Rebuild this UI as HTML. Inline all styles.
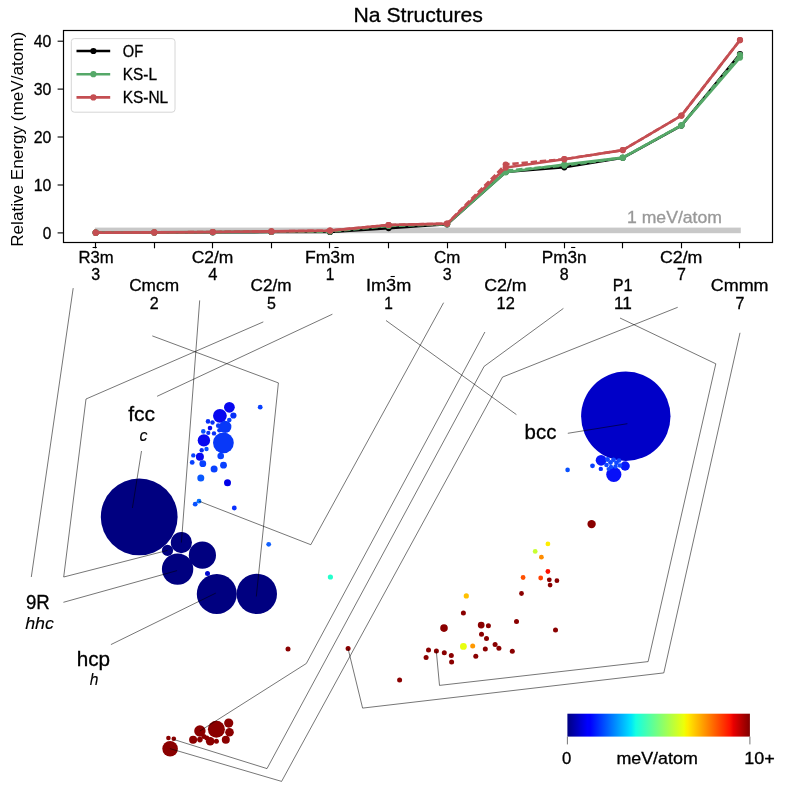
<!DOCTYPE html>
<html><head><meta charset="utf-8"><title>Na Structures</title>
<style>html,body{margin:0;padding:0;background:#fff;} svg{display:block;} text{font-family:"Liberation Sans", sans-serif;} svg{will-change:transform;}</style>
</head><body>
<svg width="791" height="791" viewBox="0 0 791 791">
<rect x="0" y="0" width="791" height="791" fill="#fff"/>
<rect x="94.9" y="227.6" width="645.87" height="5.6" fill="#c8c8c8"/>
<polyline points="95.7,232.7 154.3,232.5 212.8,232.3 271.4,232.0 330.0,232.0 388.6,228.1 447.1,224.3 505.7,172.0 564.3,167.3 622.8,157.8 681.4,125.6 740.0,54.0" fill="none" stroke="#000000" stroke-width="2.6" stroke-linejoin="round" stroke-linecap="butt" />
<circle cx="95.7" cy="232.7" r="3.1" fill="#000000"/>
<circle cx="154.3" cy="232.5" r="3.1" fill="#000000"/>
<circle cx="212.8" cy="232.3" r="3.1" fill="#000000"/>
<circle cx="271.4" cy="232.0" r="3.1" fill="#000000"/>
<circle cx="330.0" cy="232.0" r="3.1" fill="#000000"/>
<circle cx="388.6" cy="228.1" r="3.1" fill="#000000"/>
<circle cx="447.1" cy="224.3" r="3.1" fill="#000000"/>
<circle cx="505.7" cy="172.0" r="3.1" fill="#000000"/>
<circle cx="564.3" cy="167.3" r="3.1" fill="#000000"/>
<circle cx="622.8" cy="157.8" r="3.1" fill="#000000"/>
<circle cx="681.4" cy="125.6" r="3.1" fill="#000000"/>
<circle cx="740.0" cy="54.0" r="3.1" fill="#000000"/>
<polyline points="95.7,232.7 154.3,232.5 212.8,232.2 271.4,231.8 330.0,231.6 388.6,226.0 447.1,224.2 505.7,170.6 564.3,165.6 622.8,157.7 681.4,125.3 740.0,54.9" fill="none" stroke="#55a868" stroke-width="2.6" stroke-linejoin="round" stroke-linecap="butt" stroke-dasharray="6.4,2.8"/>
<circle cx="95.7" cy="232.7" r="3.1" fill="#55a868"/>
<circle cx="154.3" cy="232.5" r="3.1" fill="#55a868"/>
<circle cx="212.8" cy="232.2" r="3.1" fill="#55a868"/>
<circle cx="271.4" cy="231.8" r="3.1" fill="#55a868"/>
<circle cx="330.0" cy="231.6" r="3.1" fill="#55a868"/>
<circle cx="388.6" cy="226.0" r="3.1" fill="#55a868"/>
<circle cx="447.1" cy="224.2" r="3.1" fill="#55a868"/>
<circle cx="505.7" cy="170.6" r="3.1" fill="#55a868"/>
<circle cx="564.3" cy="165.6" r="3.1" fill="#55a868"/>
<circle cx="622.8" cy="157.7" r="3.1" fill="#55a868"/>
<circle cx="681.4" cy="125.3" r="3.1" fill="#55a868"/>
<circle cx="740.0" cy="54.9" r="3.1" fill="#55a868"/>
<polyline points="95.7,232.7 154.3,232.4 212.8,232.0 271.4,231.5 330.0,231.0 388.6,225.2 447.1,224.0 505.7,172.3 564.3,164.5 622.8,157.6 681.4,125.4 740.0,57.6" fill="none" stroke="#55a868" stroke-width="2.6" stroke-linejoin="round" stroke-linecap="butt" />
<circle cx="95.7" cy="232.7" r="3.1" fill="#55a868"/>
<circle cx="154.3" cy="232.4" r="3.1" fill="#55a868"/>
<circle cx="212.8" cy="232.0" r="3.1" fill="#55a868"/>
<circle cx="271.4" cy="231.5" r="3.1" fill="#55a868"/>
<circle cx="330.0" cy="231.0" r="3.1" fill="#55a868"/>
<circle cx="388.6" cy="225.2" r="3.1" fill="#55a868"/>
<circle cx="447.1" cy="224.0" r="3.1" fill="#55a868"/>
<circle cx="505.7" cy="172.3" r="3.1" fill="#55a868"/>
<circle cx="564.3" cy="164.5" r="3.1" fill="#55a868"/>
<circle cx="622.8" cy="157.6" r="3.1" fill="#55a868"/>
<circle cx="681.4" cy="125.4" r="3.1" fill="#55a868"/>
<circle cx="740.0" cy="57.6" r="3.1" fill="#55a868"/>
<polyline points="95.7,232.7 154.3,232.4 212.8,232.0 271.4,231.4 330.0,230.6 388.6,225.0 447.1,223.6 505.7,164.5 564.3,159.2 622.8,150.1 681.4,115.6 740.0,40.1" fill="none" stroke="#c44e52" stroke-width="2.6" stroke-linejoin="round" stroke-linecap="butt" stroke-dasharray="6.4,2.8"/>
<circle cx="95.7" cy="232.7" r="3.1" fill="#c44e52"/>
<circle cx="154.3" cy="232.4" r="3.1" fill="#c44e52"/>
<circle cx="212.8" cy="232.0" r="3.1" fill="#c44e52"/>
<circle cx="271.4" cy="231.4" r="3.1" fill="#c44e52"/>
<circle cx="330.0" cy="230.6" r="3.1" fill="#c44e52"/>
<circle cx="388.6" cy="225.0" r="3.1" fill="#c44e52"/>
<circle cx="447.1" cy="223.6" r="3.1" fill="#c44e52"/>
<circle cx="505.7" cy="164.5" r="3.1" fill="#c44e52"/>
<circle cx="564.3" cy="159.2" r="3.1" fill="#c44e52"/>
<circle cx="622.8" cy="150.1" r="3.1" fill="#c44e52"/>
<circle cx="681.4" cy="115.6" r="3.1" fill="#c44e52"/>
<circle cx="740.0" cy="40.1" r="3.1" fill="#c44e52"/>
<polyline points="95.7,232.7 154.3,232.4 212.8,232.0 271.4,231.4 330.0,230.6 388.6,225.0 447.1,223.6 505.7,167.6 564.3,159.2 622.8,150.1 681.4,115.6 740.0,40.1" fill="none" stroke="#c44e52" stroke-width="2.6" stroke-linejoin="round" stroke-linecap="butt" />
<circle cx="95.7" cy="232.7" r="3.1" fill="#c44e52"/>
<circle cx="154.3" cy="232.4" r="3.1" fill="#c44e52"/>
<circle cx="212.8" cy="232.0" r="3.1" fill="#c44e52"/>
<circle cx="271.4" cy="231.4" r="3.1" fill="#c44e52"/>
<circle cx="330.0" cy="230.6" r="3.1" fill="#c44e52"/>
<circle cx="388.6" cy="225.0" r="3.1" fill="#c44e52"/>
<circle cx="447.1" cy="223.6" r="3.1" fill="#c44e52"/>
<circle cx="505.7" cy="167.6" r="3.1" fill="#c44e52"/>
<circle cx="564.3" cy="159.2" r="3.1" fill="#c44e52"/>
<circle cx="622.8" cy="150.1" r="3.1" fill="#c44e52"/>
<circle cx="681.4" cy="115.6" r="3.1" fill="#c44e52"/>
<circle cx="740.0" cy="40.1" r="3.1" fill="#c44e52"/>
<text x="627.0" y="223.2" font-size="15.9" text-anchor="start" fill="#999999" stroke="#999999" stroke-width="0.3" textLength="95" lengthAdjust="spacingAndGlyphs" >1 meV/atom</text>
<rect x="63.5" y="30.5" width="709.0" height="212.0" fill="none" stroke="#000" stroke-width="1.2"/>
<line x1="57.6" y1="232.9" x2="63.5" y2="232.9" stroke="#000" stroke-width="1.1"/>
<text x="51.3" y="238.9" font-size="15.9" text-anchor="end" fill="#000" stroke="#000" stroke-width="0.3" textLength="8.6" lengthAdjust="spacingAndGlyphs" >0</text>
<line x1="57.6" y1="185.0" x2="63.5" y2="185.0" stroke="#000" stroke-width="1.1"/>
<text x="51.3" y="190.97" font-size="15.9" text-anchor="end" fill="#000" stroke="#000" stroke-width="0.3" textLength="17.6" lengthAdjust="spacingAndGlyphs" >10</text>
<line x1="57.6" y1="137.0" x2="63.5" y2="137.0" stroke="#000" stroke-width="1.1"/>
<text x="51.3" y="143.04000000000002" font-size="15.9" text-anchor="end" fill="#000" stroke="#000" stroke-width="0.3" textLength="17.6" lengthAdjust="spacingAndGlyphs" >20</text>
<line x1="57.6" y1="89.1" x2="63.5" y2="89.1" stroke="#000" stroke-width="1.1"/>
<text x="51.3" y="95.11000000000001" font-size="15.9" text-anchor="end" fill="#000" stroke="#000" stroke-width="0.3" textLength="17.6" lengthAdjust="spacingAndGlyphs" >30</text>
<line x1="57.6" y1="41.2" x2="63.5" y2="41.2" stroke="#000" stroke-width="1.1"/>
<text x="51.3" y="47.18000000000001" font-size="15.9" text-anchor="end" fill="#000" stroke="#000" stroke-width="0.3" textLength="17.6" lengthAdjust="spacingAndGlyphs" >40</text>
<line x1="95.5" y1="242.4" x2="95.5" y2="248.3" stroke="#000" stroke-width="1.15"/>
<line x1="154.5" y1="242.4" x2="154.5" y2="248.3" stroke="#000" stroke-width="1.15"/>
<line x1="212.5" y1="242.4" x2="212.5" y2="248.3" stroke="#000" stroke-width="1.15"/>
<line x1="271.5" y1="242.4" x2="271.5" y2="248.3" stroke="#000" stroke-width="1.15"/>
<line x1="329.5" y1="242.4" x2="329.5" y2="248.3" stroke="#000" stroke-width="1.15"/>
<line x1="388.5" y1="242.4" x2="388.5" y2="248.3" stroke="#000" stroke-width="1.15"/>
<line x1="447.5" y1="242.4" x2="447.5" y2="248.3" stroke="#000" stroke-width="1.15"/>
<line x1="505.5" y1="242.4" x2="505.5" y2="248.3" stroke="#000" stroke-width="1.15"/>
<line x1="564.5" y1="242.4" x2="564.5" y2="248.3" stroke="#000" stroke-width="1.15"/>
<line x1="622.5" y1="242.4" x2="622.5" y2="248.3" stroke="#000" stroke-width="1.15"/>
<line x1="681.5" y1="242.4" x2="681.5" y2="248.3" stroke="#000" stroke-width="1.15"/>
<line x1="739.5" y1="242.4" x2="739.5" y2="248.3" stroke="#000" stroke-width="1.15"/>
<text x="418.2" y="21.5" font-size="19.8" text-anchor="middle" fill="#000" stroke="#000" stroke-width="0.3" textLength="129.4" lengthAdjust="spacingAndGlyphs" >Na Structures</text>
<text x="0" y="0" font-size="15.9" text-anchor="middle" fill="#000" textLength="215" lengthAdjust="spacingAndGlyphs" transform="translate(23.2,139.3) rotate(-90)">Relative Energy (meV/atom)</text>
<rect x="71.3" y="38.6" width="103.7" height="73.6" rx="3" ry="3" fill="#fff" fill-opacity="0.8" stroke="#d6d6d6" stroke-width="1"/>
<line x1="76.5" y1="51.0" x2="110.2" y2="51.0" stroke="#000000" stroke-width="2.6"/>
<circle cx="93.4" cy="51.0" r="3.1" fill="#000000"/>
<text x="122.8" y="56.8" font-size="15.9" text-anchor="start" fill="#000" stroke="#000" stroke-width="0.3" textLength="20.3" lengthAdjust="spacingAndGlyphs" >OF</text>
<line x1="76.5" y1="74.2" x2="110.2" y2="74.2" stroke="#55a868" stroke-width="2.6"/>
<circle cx="93.4" cy="74.2" r="3.1" fill="#55a868"/>
<text x="122.8" y="80.0" font-size="15.9" text-anchor="start" fill="#000" stroke="#000" stroke-width="0.3" textLength="34.2" lengthAdjust="spacingAndGlyphs" >KS-L</text>
<line x1="76.5" y1="97.4" x2="110.2" y2="97.4" stroke="#c44e52" stroke-width="2.6"/>
<circle cx="93.4" cy="97.4" r="3.1" fill="#c44e52"/>
<text x="122.8" y="103.2" font-size="15.9" text-anchor="start" fill="#000" stroke="#000" stroke-width="0.3" textLength="45.4" lengthAdjust="spacingAndGlyphs" >KS-NL</text>
<text x="96.0" y="262.5" font-size="15.9" text-anchor="middle" fill="#000" stroke="#000" stroke-width="0.3" textLength="35.2" lengthAdjust="spacingAndGlyphs" >R3m</text>
<text x="95.7" y="280.2" font-size="15.9" text-anchor="middle" fill="#000" stroke="#000" stroke-width="0.3" textLength="8.9" lengthAdjust="spacingAndGlyphs" >3</text>
<line x1="92.6" y1="247.5" x2="96.8" y2="247.5" stroke="#000" stroke-width="1.1"/>
<text x="154.1" y="291.0" font-size="15.9" text-anchor="middle" fill="#000" stroke="#000" stroke-width="0.3" textLength="49.9" lengthAdjust="spacingAndGlyphs" >Cmcm</text>
<text x="154.3" y="308.7" font-size="15.9" text-anchor="middle" fill="#000" stroke="#000" stroke-width="0.3" textLength="8.9" lengthAdjust="spacingAndGlyphs" >2</text>
<text x="212.5" y="262.5" font-size="15.9" text-anchor="middle" fill="#000" stroke="#000" stroke-width="0.3" textLength="41.7" lengthAdjust="spacingAndGlyphs" >C2/m</text>
<text x="212.8" y="280.2" font-size="15.9" text-anchor="middle" fill="#000" stroke="#000" stroke-width="0.3" textLength="9.2" lengthAdjust="spacingAndGlyphs" >4</text>
<text x="271.0" y="291.0" font-size="15.9" text-anchor="middle" fill="#000" stroke="#000" stroke-width="0.3" textLength="41.0" lengthAdjust="spacingAndGlyphs" >C2/m</text>
<text x="271.4" y="308.7" font-size="15.9" text-anchor="middle" fill="#000" stroke="#000" stroke-width="0.3" textLength="8.9" lengthAdjust="spacingAndGlyphs" >5</text>
<text x="329.9" y="262.5" font-size="15.9" text-anchor="middle" fill="#000" stroke="#000" stroke-width="0.3" textLength="49.8" lengthAdjust="spacingAndGlyphs" >Fm3m</text>
<text x="330.0" y="280.2" font-size="15.9" text-anchor="middle" fill="#000" stroke="#000" stroke-width="0.3" textLength="8.6" lengthAdjust="spacingAndGlyphs" >1</text>
<line x1="334.4" y1="247.5" x2="338.6" y2="247.5" stroke="#000" stroke-width="1.1"/>
<text x="388.6" y="291.0" font-size="15.9" text-anchor="middle" fill="#000" stroke="#000" stroke-width="0.3" textLength="45.2" lengthAdjust="spacingAndGlyphs" >Im3m</text>
<text x="388.6" y="308.7" font-size="15.9" text-anchor="middle" fill="#000" stroke="#000" stroke-width="0.3" textLength="8.6" lengthAdjust="spacingAndGlyphs" >1</text>
<line x1="390.6" y1="276.5" x2="394.8" y2="276.5" stroke="#000" stroke-width="1.1"/>
<text x="447.1" y="262.5" font-size="15.9" text-anchor="middle" fill="#000" stroke="#000" stroke-width="0.3" textLength="26.3" lengthAdjust="spacingAndGlyphs" >Cm</text>
<text x="447.1" y="280.2" font-size="15.9" text-anchor="middle" fill="#000" stroke="#000" stroke-width="0.3" textLength="8.9" lengthAdjust="spacingAndGlyphs" >3</text>
<text x="505.4" y="291.0" font-size="15.9" text-anchor="middle" fill="#000" stroke="#000" stroke-width="0.3" textLength="42.4" lengthAdjust="spacingAndGlyphs" >C2/m</text>
<text x="505.7" y="308.7" font-size="15.9" text-anchor="middle" fill="#000" stroke="#000" stroke-width="0.3" textLength="18.2" lengthAdjust="spacingAndGlyphs" >12</text>
<text x="564.2" y="262.5" font-size="15.9" text-anchor="middle" fill="#000" stroke="#000" stroke-width="0.3" textLength="44.8" lengthAdjust="spacingAndGlyphs" >Pm3n</text>
<text x="564.3" y="280.2" font-size="15.9" text-anchor="middle" fill="#000" stroke="#000" stroke-width="0.3" textLength="8.9" lengthAdjust="spacingAndGlyphs" >8</text>
<line x1="571.1" y1="247.5" x2="575.3" y2="247.5" stroke="#000" stroke-width="1.1"/>
<text x="622.6" y="291.0" font-size="15.9" text-anchor="middle" fill="#000" stroke="#000" stroke-width="0.3" textLength="19.8" lengthAdjust="spacingAndGlyphs" >P1</text>
<text x="622.8" y="308.7" font-size="15.9" text-anchor="middle" fill="#000" stroke="#000" stroke-width="0.3" textLength="17.8" lengthAdjust="spacingAndGlyphs" >11</text>
<text x="681.2" y="262.5" font-size="15.9" text-anchor="middle" fill="#000" stroke="#000" stroke-width="0.3" textLength="42.5" lengthAdjust="spacingAndGlyphs" >C2/m</text>
<text x="681.4" y="280.2" font-size="15.9" text-anchor="middle" fill="#000" stroke="#000" stroke-width="0.3" textLength="8.9" lengthAdjust="spacingAndGlyphs" >7</text>
<text x="739.7" y="291.0" font-size="15.9" text-anchor="middle" fill="#000" stroke="#000" stroke-width="0.3" textLength="57.7" lengthAdjust="spacingAndGlyphs" >Cmmm</text>
<text x="740.0" y="308.7" font-size="15.9" text-anchor="middle" fill="#000" stroke="#000" stroke-width="0.3" textLength="8.9" lengthAdjust="spacingAndGlyphs" >7</text>
<circle cx="625.8" cy="416.3" r="44.7" fill="#0000c8"/>
<circle cx="139.2" cy="516.9" r="38.4" fill="#000080"/>
<circle cx="256.8" cy="593.9" r="20.2" fill="#000080"/>
<circle cx="216.8" cy="593.9" r="20.0" fill="#000080"/>
<circle cx="177.6" cy="569.1" r="15.7" fill="#000080"/>
<circle cx="202.4" cy="555.2" r="13.6" fill="#000080"/>
<circle cx="181.4" cy="542.6" r="10.6" fill="#000080"/>
<circle cx="223.4" cy="442.8" r="10.4" fill="#0838f8"/>
<circle cx="216.4" cy="729.3" r="8.5" fill="#8a0000"/>
<circle cx="170.1" cy="748.7" r="7.8" fill="#8a0000"/>
<circle cx="613.8" cy="474.5" r="7.6" fill="#0810f8"/>
<circle cx="219.9" cy="415.8" r="6.9" fill="#0808f0"/>
<circle cx="225.2" cy="426.9" r="6.2" fill="#0838f8"/>
<circle cx="203.9" cy="440.4" r="6.2" fill="#0808f0"/>
<circle cx="199.9" cy="731.0" r="5.7" fill="#8a0000"/>
<circle cx="167.5" cy="550.4" r="5.6" fill="#000080"/>
<circle cx="229.4" cy="407.3" r="5.4" fill="#0808f0"/>
<circle cx="601.1" cy="460.3" r="5.4" fill="#0818f8"/>
<circle cx="625.1" cy="466.0" r="4.7" fill="#0818f8"/>
<circle cx="228.7" cy="723.1" r="4.6" fill="#8a0000"/>
<circle cx="229.5" cy="732.2" r="4.3" fill="#8a0000"/>
<circle cx="210.2" cy="741.3" r="4.3" fill="#8a0000"/>
<circle cx="591.6" cy="524.1" r="4.2" fill="#8a0000"/>
<circle cx="199.9" cy="456.7" r="4.0" fill="#0808f0"/>
<circle cx="225.8" cy="739.8" r="4.0" fill="#8a0000"/>
<circle cx="193.1" cy="739.8" r="4.0" fill="#8a0000"/>
<circle cx="444.0" cy="628.1" r="3.8" fill="#8a0000"/>
<circle cx="214.1" cy="469.0" r="3.5" fill="#0840ff"/>
<circle cx="200.8" cy="477.9" r="3.5" fill="#0858ff"/>
<circle cx="227.5" cy="482.7" r="3.5" fill="#0000e8"/>
<circle cx="202.8" cy="463.7" r="3.4" fill="#0840ff"/>
<circle cx="223.5" cy="465.2" r="3.4" fill="#0840ff"/>
<circle cx="481.2" cy="625.1" r="3.4" fill="#8a0000"/>
<circle cx="463.4" cy="646.4" r="3.4" fill="#e8ff10"/>
<circle cx="220.7" cy="456.0" r="3.3" fill="#0840ff"/>
<circle cx="233.4" cy="415.5" r="3.1" fill="#0830f8"/>
<circle cx="199.9" cy="739.6" r="2.8" fill="#8a0000"/>
<circle cx="466.3" cy="595.9" r="2.6" fill="#ffc000"/>
<circle cx="330.4" cy="577.0" r="2.6" fill="#24ffcc"/>
<circle cx="207.5" cy="573.4" r="2.5" fill="#0008d0"/>
<circle cx="463.4" cy="613.1" r="2.5" fill="#8a0000"/>
<circle cx="488.4" cy="625.8" r="2.5" fill="#8a0000"/>
<circle cx="481.5" cy="634.3" r="2.5" fill="#8a0000"/>
<circle cx="486.5" cy="638.4" r="2.5" fill="#8a0000"/>
<circle cx="472.7" cy="646.0" r="2.5" fill="#ff9800"/>
<circle cx="495.1" cy="644.5" r="2.5" fill="#8a0000"/>
<circle cx="498.9" cy="648.3" r="2.5" fill="#8a0000"/>
<circle cx="485.3" cy="649.0" r="2.5" fill="#8a0000"/>
<circle cx="428.5" cy="650.1" r="2.5" fill="#8a0000"/>
<circle cx="436.4" cy="651.0" r="2.5" fill="#8a0000"/>
<circle cx="444.3" cy="652.8" r="2.5" fill="#8a0000"/>
<circle cx="451.3" cy="655.4" r="2.5" fill="#8a0000"/>
<circle cx="426.1" cy="657.4" r="2.5" fill="#8a0000"/>
<circle cx="451.6" cy="661.9" r="2.5" fill="#8a0000"/>
<circle cx="475.8" cy="656.3" r="2.5" fill="#8a0000"/>
<circle cx="512.3" cy="651.3" r="2.5" fill="#8a0000"/>
<circle cx="516.5" cy="621.4" r="2.5" fill="#8a0000"/>
<circle cx="399.6" cy="680.1" r="2.5" fill="#8a0000"/>
<circle cx="555.5" cy="630.1" r="2.5" fill="#8a0000"/>
<circle cx="348.1" cy="648.4" r="2.5" fill="#8a0000"/>
<circle cx="288.0" cy="648.9" r="2.5" fill="#8a0000"/>
<circle cx="203.9" cy="736.4" r="2.5" fill="#8a0000"/>
<circle cx="216.4" cy="741.3" r="2.5" fill="#8a0000"/>
<circle cx="206.8" cy="737.9" r="2.5" fill="#8a0000"/>
<circle cx="218.3" cy="425.7" r="2.4" fill="#0838f8"/>
<circle cx="192.2" cy="462.4" r="2.4" fill="#0840ff"/>
<circle cx="199.0" cy="501.2" r="2.4" fill="#0870ff"/>
<circle cx="195.2" cy="504.2" r="2.4" fill="#0850ff"/>
<circle cx="234.3" cy="508.0" r="2.4" fill="#0830ff"/>
<circle cx="260.2" cy="407.2" r="2.4" fill="#0840ff"/>
<circle cx="268.7" cy="544.3" r="2.4" fill="#1060ff"/>
<circle cx="592.5" cy="465.8" r="2.4" fill="#0840ff"/>
<circle cx="607.5" cy="459.5" r="2.4" fill="#1048ff"/>
<circle cx="610.5" cy="462.5" r="2.4" fill="#1048ff"/>
<circle cx="613.5" cy="459.8" r="2.4" fill="#1048ff"/>
<circle cx="616.5" cy="462.8" r="2.4" fill="#1048ff"/>
<circle cx="547.9" cy="543.9" r="2.4" fill="#ffee00"/>
<circle cx="535.2" cy="551.4" r="2.4" fill="#c8ff30"/>
<circle cx="541.4" cy="557.2" r="2.4" fill="#ff8c00"/>
<circle cx="547.9" cy="571.5" r="2.4" fill="#ff1000"/>
<circle cx="523.1" cy="577.5" r="2.4" fill="#ff5000"/>
<circle cx="540.7" cy="578.0" r="2.4" fill="#ff4000"/>
<circle cx="549.3" cy="579.8" r="2.4" fill="#8a0000"/>
<circle cx="556.9" cy="580.7" r="2.4" fill="#8a0000"/>
<circle cx="550.1" cy="585.1" r="2.4" fill="#8a0000"/>
<circle cx="521.5" cy="593.5" r="2.4" fill="#8a0000"/>
<circle cx="229.3" cy="420.0" r="2.3" fill="#0840ff"/>
<circle cx="208.0" cy="421.4" r="2.3" fill="#0830f8"/>
<circle cx="210.0" cy="428.1" r="2.3" fill="#0808f0"/>
<circle cx="203.3" cy="431.4" r="2.3" fill="#0850ff"/>
<circle cx="619.0" cy="460.5" r="2.3" fill="#1048ff"/>
<circle cx="620.0" cy="465.5" r="2.3" fill="#1048ff"/>
<circle cx="606.5" cy="465.0" r="2.3" fill="#1048ff"/>
<circle cx="567.6" cy="469.9" r="2.3" fill="#0850ff"/>
<circle cx="168.4" cy="738.0" r="2.3" fill="#8a0000"/>
<circle cx="173.8" cy="738.8" r="2.3" fill="#8a0000"/>
<circle cx="212.5" cy="422.5" r="2.2" fill="#0830f8"/>
<circle cx="219.4" cy="430.3" r="2.2" fill="#0838f8"/>
<circle cx="214.0" cy="433.4" r="2.2" fill="#0830f8"/>
<circle cx="201.7" cy="450.3" r="2.2" fill="#0830f8"/>
<circle cx="206.5" cy="449.0" r="2.2" fill="#0850ff"/>
<circle cx="193.3" cy="455.4" r="2.2" fill="#0840ff"/>
<circle cx="600.8" cy="468.9" r="2.2" fill="#0830ff"/>
<circle cx="611.0" cy="467.0" r="2.2" fill="#1048ff"/>
<circle cx="615.5" cy="466.5" r="2.2" fill="#1048ff"/>
<circle cx="208.3" cy="432.9" r="2.1" fill="#0830f8"/>
<circle cx="608.5" cy="469.0" r="2.0" fill="#1048ff"/>
<polyline points="73.2,288.1 31.3,577.0" fill="none" stroke="#000" stroke-width="0.9" stroke-linejoin="round" stroke-linecap="butt" stroke-opacity="0.6"/>
<polyline points="199.7,300.4 181.4,542.6" fill="none" stroke="#000" stroke-width="0.9" stroke-linejoin="round" stroke-linecap="butt" stroke-opacity="0.6"/>
<polyline points="263.3,321.9 86.0,399.0 63.7,577.0 167.5,550.4" fill="none" stroke="#000" stroke-width="0.9" stroke-linejoin="round" stroke-linecap="butt" stroke-opacity="0.6"/>
<polyline points="152.3,335.9 278.4,382.9 256.3,596.5" fill="none" stroke="#000" stroke-width="0.9" stroke-linejoin="round" stroke-linecap="butt" stroke-opacity="0.6"/>
<polyline points="332.4,314.2 157.1,396.3" fill="none" stroke="#000" stroke-width="0.9" stroke-linejoin="round" stroke-linecap="butt" stroke-opacity="0.6"/>
<polyline points="386.0,320.5 516.4,414.6" fill="none" stroke="#000" stroke-width="0.9" stroke-linejoin="round" stroke-linecap="butt" stroke-opacity="0.6"/>
<polyline points="443.6,302.7 310.8,544.7 199.0,501.2" fill="none" stroke="#000" stroke-width="0.9" stroke-linejoin="round" stroke-linecap="butt" stroke-opacity="0.6"/>
<polyline points="484.9,332.0 306.3,663.5 199.9,731.0" fill="none" stroke="#000" stroke-width="0.9" stroke-linejoin="round" stroke-linecap="butt" stroke-opacity="0.6"/>
<polyline points="563.4,308.4 484.1,366.4 267.0,768.6 173.8,739.5" fill="none" stroke="#000" stroke-width="0.9" stroke-linejoin="round" stroke-linecap="butt" stroke-opacity="0.6"/>
<polyline points="677.7,307.3 502.5,377.1 281.6,781.4 169.9,748.6" fill="none" stroke="#000" stroke-width="0.9" stroke-linejoin="round" stroke-linecap="butt" stroke-opacity="0.6"/>
<polyline points="620.0,318.0 715.8,363.8 648.1,661.6 439.5,685.4 436.3,651.1" fill="none" stroke="#000" stroke-width="0.9" stroke-linejoin="round" stroke-linecap="butt" stroke-opacity="0.6"/>
<polyline points="740.0,332.8 663.8,672.9 362.6,708.1 348.0,648.4" fill="none" stroke="#000" stroke-width="0.9" stroke-linejoin="round" stroke-linecap="butt" stroke-opacity="0.6"/>
<polyline points="141.5,451.0 132.4,508.0" fill="none" stroke="#000" stroke-width="0.9" stroke-linejoin="round" stroke-linecap="butt" stroke-opacity="0.6"/>
<polyline points="567.8,433.3 627.4,423.7" fill="none" stroke="#000" stroke-width="0.9" stroke-linejoin="round" stroke-linecap="butt" stroke-opacity="0.6"/>
<polyline points="63.4,602.3 177.1,570.6" fill="none" stroke="#000" stroke-width="0.9" stroke-linejoin="round" stroke-linecap="butt" stroke-opacity="0.6"/>
<polyline points="110.9,644.6 215.8,593.1" fill="none" stroke="#000" stroke-width="0.9" stroke-linejoin="round" stroke-linecap="butt" stroke-opacity="0.6"/>
<text x="141.6" y="421.2" font-size="20.4" text-anchor="middle" fill="#000" stroke="#000" stroke-width="0.3" textLength="26.9" lengthAdjust="spacingAndGlyphs" >fcc</text>
<text x="143.4" y="440.9" font-size="16.0" text-anchor="middle" fill="#000" stroke="#000" stroke-width="0.1" font-style="italic">c</text>
<text x="540.5" y="439.0" font-size="20.4" text-anchor="middle" fill="#000" stroke="#000" stroke-width="0.3" textLength="31.8" lengthAdjust="spacingAndGlyphs" >bcc</text>
<text x="37.8" y="609.1" font-size="20.4" text-anchor="middle" fill="#000" stroke="#000" stroke-width="0.3" textLength="23.8" lengthAdjust="spacingAndGlyphs" >9R</text>
<text x="39.6" y="628.6" font-size="15.6" text-anchor="middle" fill="#000" stroke="#000" stroke-width="0.1" textLength="28.8" lengthAdjust="spacingAndGlyphs" font-style="italic">hhc</text>
<text x="93.4" y="665.6" font-size="20.4" text-anchor="middle" fill="#000" stroke="#000" stroke-width="0.3" textLength="33.4" lengthAdjust="spacingAndGlyphs" >hcp</text>
<text x="94.2" y="684.7" font-size="15.6" text-anchor="middle" fill="#000" stroke="#000" stroke-width="0.1" font-style="italic">h</text>
<defs><linearGradient id="jet" x1="0" y1="0" x2="1" y2="0"><stop offset="0" stop-color="#000080"/><stop offset="0.11" stop-color="#0000ff"/><stop offset="0.125" stop-color="#0000ff"/><stop offset="0.34" stop-color="#00dbff"/><stop offset="0.35" stop-color="#00e5f7"/><stop offset="0.375" stop-color="#14ffe2"/><stop offset="0.64" stop-color="#eeff08"/><stop offset="0.65" stop-color="#f7f500"/><stop offset="0.66" stop-color="#ffec00"/><stop offset="0.89" stop-color="#ff1300"/><stop offset="0.91" stop-color="#e80000"/><stop offset="1" stop-color="#800000"/></linearGradient></defs>
<rect x="567.4" y="713.7" width="182.5" height="22.9" fill="url(#jet)"/>
<line x1="567.4" y1="736.6" x2="567.4" y2="744.4" stroke="#666" stroke-width="0.9"/>
<line x1="749.9" y1="736.6" x2="749.9" y2="744.4" stroke="#666" stroke-width="0.9"/>
<text x="566.7" y="764.0" font-size="15.9" text-anchor="middle" fill="#000" stroke="#000" stroke-width="0.3" textLength="9.3" lengthAdjust="spacingAndGlyphs" >0</text>
<text x="657.1" y="764.0" font-size="15.9" text-anchor="middle" fill="#000" stroke="#000" stroke-width="0.3" textLength="81.4" lengthAdjust="spacingAndGlyphs" >meV/atom</text>
<text x="759.6" y="764.0" font-size="15.9" text-anchor="middle" fill="#000" stroke="#000" stroke-width="0.3" textLength="30.5" lengthAdjust="spacingAndGlyphs" >10+</text>
</svg>
</body></html>
